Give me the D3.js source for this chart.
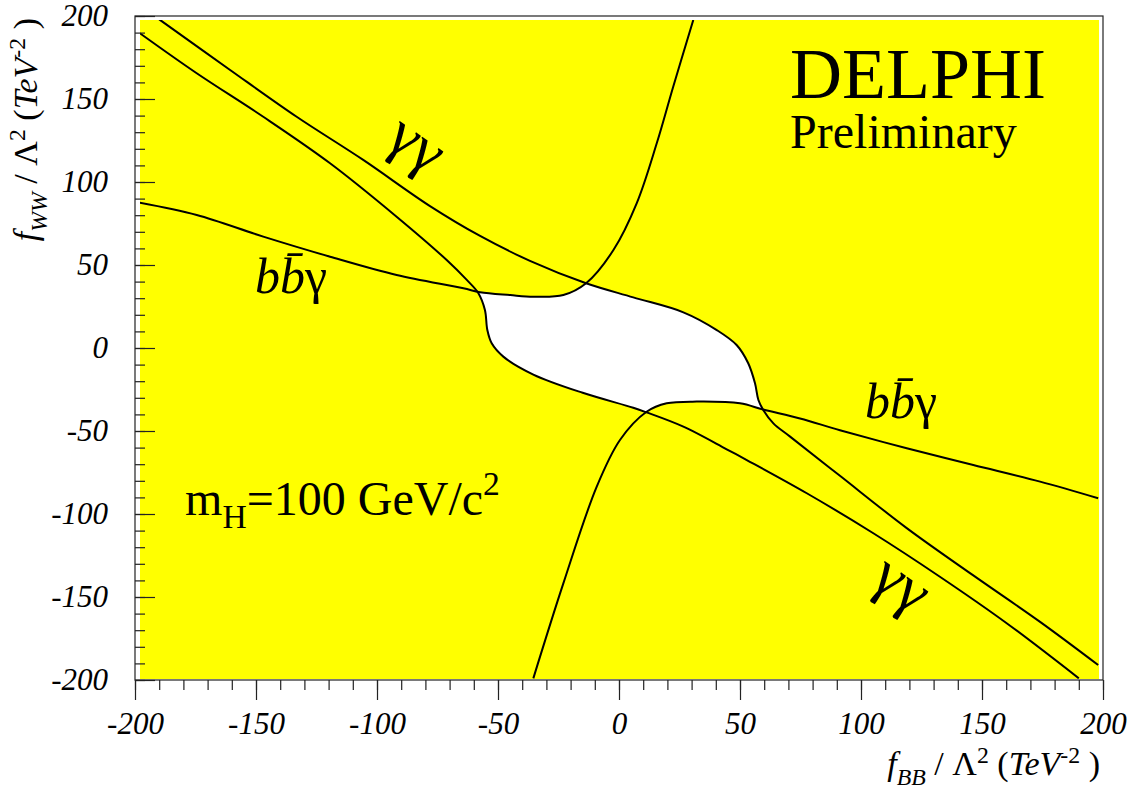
<!DOCTYPE html>
<html lang="en">
<head>
<meta charset="UTF-8" />
<title>DELPHI f_WW vs f_BB</title>
<style>
  body { margin: 0; background: #fff; }
  text { font-family: "Liberation Serif", "Times New Roman", serif; fill: #000; }
</style>
</head>
<body>
<script src="https://cdn.jsdelivr.net/npm/d3@7"></script>
<div id="app"></div>
<script>
// contour lines, [fBB, fWW] in TeV^-2
const ggA = [ // gamma gamma, lower-left edge, S-bend near fBB=-55
  [-198, 189.6], [-174.5, 165.5], [-147, 139.3], [-119.4, 111.3], [-91.9, 79.1],
  [-71.2, 53], [-62.9, 41], [-58.1, 33], [-55.4, 22.9], [-54.4, 10.8], [-52.6, 2.8],
  [-47.8, -5.2], [-35.4, -16], [-15, -27], [5.9, -36], [11.4, -38.8], [26.6, -47.4],
  [44.5, -61], [52.8, -67.5], [77.6, -87.5], [105.1, -111.6], [132.6, -137.8],
  [160.2, -165.8], [190, -199]
];
const ggB = [ // gamma gamma, upper-right edge, S-bend near fBB=57
  [-190, 198], [-160.7, 167.5], [-133.2, 139.3], [-105.7, 113.3], [-78.1, 85.5],
  [-57.4, 67.5], [-36.8, 52.5], [-13.6, 39], [5.9, 30.5], [26.6, 21.5], [40.4, 10.8],
  [48.6, 1.8], [53.4, -9.2], [56.2, -21.3], [57.6, -31.3], [59.6, -37.3], [63.8, -45.4],
  [70.7, -53.4], [91.3, -77], [118.9, -108.5], [146.4, -137], [174, -165], [198, -191]
];
const bbgUpper = [
  [-198, 87.5], [-174.5, 80.1], [-147, 67.1], [-119.4, 55], [-91.9, 44], [-64.3, 36],
  [-57.4, 33.6], [-45, 31.9], [-35.4, 30.9], [-23, 31.9], [-13.6, 39], [-2.3, 59],
  [7.3, 87.1], [15.6, 123.3], [22.4, 157.4], [30.7, 197.6]
];
const bbgLower = [
  [-35.4, -199], [-23, -141.8], [-9.2, -83.5], [0.4, -55.4], [11.4, -38.4], [19.7, -33.3],
  [32.1, -32.3], [50, -33.3], [59.6, -37.1], [74.8, -42.5], [91.3, -49.5], [118.9, -60.4],
  [146.4, -70.5], [174, -80.5], [198, -90.5]
];

const majorTicks = [-200, -150, -100, -50, 0, 50, 100, 150, 200];
const minorTicks = d3.range(-200, 201, 10);

const W = 1138, H = 797;
const frame = { left: 135, right: 1103, top: 16, bottom: 680 };

const svg = d3.select("#app").append("svg")
  .attr("width", W).attr("height", H);

const x = d3.scaleLinear().domain([-200, 200]).range([frame.left, frame.right]);
const y = d3.scaleLinear().domain([-200, 200]).range([frame.bottom, frame.top]);

// the coloured area sits a few px inside the frame
const fill = { x0: frame.left + 5, x1: frame.right - 4, y0: frame.top + 4, y1: frame.bottom - 1 };

const defs = svg.append("defs");
defs.append("clipPath").attr("id", "fillclip")
  .append("rect")
  .attr("x", fill.x0).attr("y", fill.y0)
  .attr("width", fill.x1 - fill.x0).attr("height", fill.y1 - fill.y0);

svg.append("rect")
  .attr("x", fill.x0).attr("y", fill.y0)
  .attr("width", fill.x1 - fill.x0).attr("height", fill.y1 - fill.y0)
  .attr("fill", "#ffff00");

// allowed region = intersection of the four sides of the contours
const far = 1000;
const sides = [
  { id: "s1", pts: bbgUpper, close: [[far, far], [far, -far], [-far, -far]] },
  { id: "s2", pts: bbgLower, close: [[far, far], [-far, far], [-far, -far]] },
  { id: "s3", pts: ggA, close: [[far, -far], [far, far], [-far, far]] },
  { id: "s4", pts: ggB, close: [[far, -far], [-far, -far], [-far, far]] }
];
const poly = d3.line().x(d => x(d[0])).y(d => y(d[1])).curve(d3.curveCatmullRom.alpha(0.5));
const straight = d3.line().x(d => x(d[0])).y(d => y(d[1]));
sides.forEach(s => {
  const p = poly(s.pts);
  const tail = straight([s.pts[s.pts.length - 1]].concat(s.close)).replace(/^M[^L]*/, "");
  defs.append("clipPath").attr("id", s.id)
    .append("path").attr("d", p + tail + "Z");
});
let g = svg.append("g").attr("clip-path", "url(#fillclip)");
sides.forEach(s => { g = g.append("g").attr("clip-path", "url(#" + s.id + ")"); });
g.append("rect")
  .attr("x", fill.x0).attr("y", fill.y0)
  .attr("width", fill.x1 - fill.x0).attr("height", fill.y1 - fill.y0)
  .attr("fill", "#fff");

// contour lines
const curves = svg.append("g").attr("clip-path", "url(#fillclip)");
curves.selectAll("path")
  .data([ggA, ggB, bbgUpper, bbgLower])
  .enter()
  .append("path")
  .attr("d", poly)
  .attr("fill", "none")
  .attr("stroke", "#000")
  .attr("stroke-width", 2);

// text with sub/superscripts
function rich(sel, parts, size, up) {
  let shift = 0;
  parts.forEach(p => {
    const target = p.pos === "sub" ? 0.28 * size : p.pos === "sup" ? -(up || 0.42) * size : 0;
    sel.append("tspan")
      .attr("dy", target - shift)
      .attr("font-size", p.pos ? size * 0.7 : size)
      .attr("font-style", p.it ? "italic" : "normal")
      .text(p.t);
    shift = target;
  });
  return sel;
}

// labels
svg.append("text").attr("x", x(70.7)).attr("y", y(150.6))
  .attr("font-size", 72).text("DELPHI");
svg.append("text").attr("x", x(70.7)).attr("y", y(120.5))
  .attr("font-size", 48).text("Preliminary");

rich(svg.append("text").attr("x", x(-179.3)).attr("y", y(-100.6)), [
  { t: "m" }, { t: "H", pos: "sub" }, { t: "=100 GeV/c" }, { t: "2", pos: "sup" }
], 48);

const bbg = [{ t: "b", it: 1 }, { t: "b\u0304", it: 1 }, { t: "\u03b3" }];
rich(svg.append("text").attr("x", x(-150.4)).attr("y", y(33.1)), bbg, 50);
rich(svg.append("text").attr("x", x(101.7)).attr("y", y(-42.2)), bbg, 50);

[[-88, 113.3], [112.4, -151.8]].forEach(p => {
  svg.append("text")
    .attr("transform", "translate(" + x(p[0]) + "," + y(p[1]) + ") rotate(35)")
    .attr("text-anchor", "middle")
    .attr("font-size", 62)
    .text("\u03b3\u03b3");
});

// frame
svg.append("rect")
  .attr("x", frame.left).attr("y", frame.top)
  .attr("width", frame.right - frame.left).attr("height", frame.bottom - frame.top)
  .attr("fill", "none").attr("stroke", "#222").attr("stroke-width", 1.2);

// axes
const fmt = d => String(d);
const xMinor = svg.append("g").attr("transform", "translate(0," + frame.bottom + ")")
  .call(d3.axisBottom(x).tickValues(minorTicks).tickSize(10).tickFormat(""));
const xMajor = svg.append("g").attr("transform", "translate(0," + frame.bottom + ")")
  .call(d3.axisBottom(x).tickValues(majorTicks).tickSize(20).tickPadding(12).tickFormat(fmt));
const yMinor = svg.append("g").attr("transform", "translate(" + frame.left + ",0)")
  .call(d3.axisLeft(y).tickValues(minorTicks).tickSize(-10).tickFormat(""));
const yMajor = svg.append("g").attr("transform", "translate(" + frame.left + ",0)")
  .call(d3.axisLeft(y).tickValues(majorTicks).tickSize(-20).tickPadding(27).tickFormat(fmt));

[xMinor, xMajor, yMinor, yMajor].forEach(a => {
  a.select(".domain").remove();
  a.selectAll("line").attr("stroke", "#222").attr("stroke-width", 1.2);
  a.selectAll("text")
    .attr("font-family", "'Liberation Serif', 'Times New Roman', serif")
    .attr("font-style", "italic")
    .attr("font-size", 31)
    .attr("fill", "#000");
});

// axis titles
const xTitle = [
  { t: "f", it: 1 }, { t: "BB", it: 1, pos: "sub" }, { t: " / \u039b" }, { t: "2", pos: "sup" },
  { t: " (" }, { t: "TeV", it: 1 }, { t: "-2", pos: "sup" }, { t: " )" }
];
const yTitle = [
  { t: "f", it: 1 }, { t: "WW", it: 1, pos: "sub" }, { t: " / \u039b" }, { t: "2", pos: "sup" },
  { t: " (" }, { t: "TeV", it: 1 }, { t: "-2", pos: "sup" }, { t: " )" }
];
rich(svg.append("text").attr("x", 1100).attr("y", 775).attr("text-anchor", "end"), xTitle, 34, 0.36);
rich(svg.append("text")
  .attr("transform", "translate(37,18) rotate(-90)")
  .attr("text-anchor", "end"), yTitle, 34, 0.36);
</script>
</body>
</html>
